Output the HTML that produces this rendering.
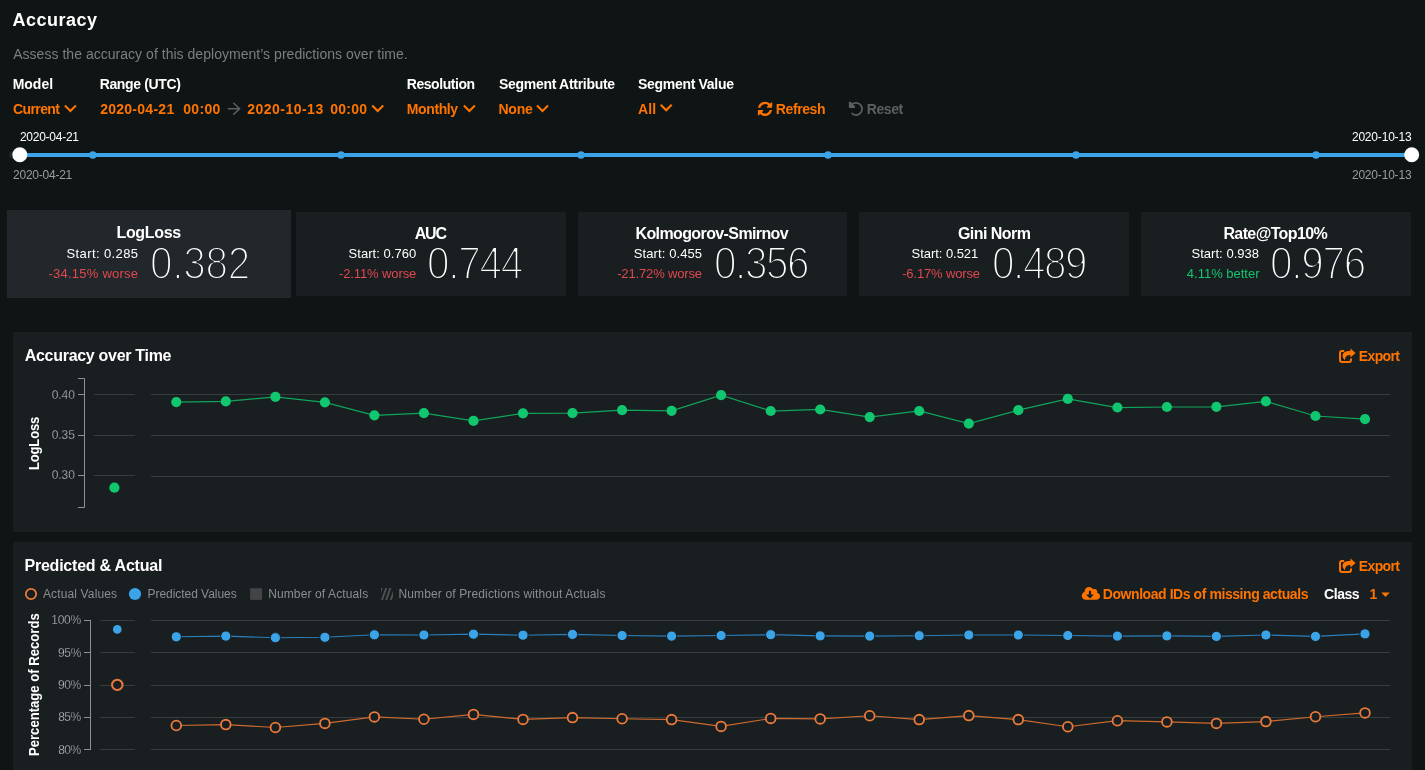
<!DOCTYPE html>
<html lang="en"><head><meta charset="utf-8"><title>Accuracy</title>
<style>
html,body{margin:0;padding:0}
body{width:1425px;height:770px;overflow:hidden;background:#0f1514;color:#fff;font-family:"Liberation Sans",Arial,Helvetica,sans-serif;position:relative}
.t{position:absolute;white-space:nowrap;line-height:1}
.ov{position:absolute;left:0;top:0}
.box{position:absolute;background:#191e21}
.big{font-size:46px;color:#fff;-webkit-text-stroke:2.15px #191e21;transform:scaleX(.88);transform-origin:0 0}
.bsel{-webkit-text-stroke-color:#22272b}
.rot{position:absolute;white-space:nowrap;line-height:1;font-weight:bold;font-size:14.5px;transform-origin:0 0;transform:rotate(-90deg) scaleX(.9)}
#app{position:absolute;left:0;top:0;width:1425px;height:770px;overflow:hidden;transform:translateZ(0)}
</style></head><body><div id="app">
<div class="box" style="left:7px;top:210px;width:284px;height:87.5px;background:#22272b"></div>
<div class="box" style="left:296px;top:212px;width:270px;height:84px"></div>
<div class="box" style="left:578px;top:212px;width:269px;height:84px"></div>
<div class="box" style="left:859px;top:212px;width:270px;height:84px"></div>
<div class="box" style="left:1141px;top:212px;width:270px;height:84px"></div>
<div class="box" style="left:13px;top:332px;width:1399px;height:199.5px"></div>
<div class="box" style="left:13px;top:542px;width:1399px;height:228px"></div>
<svg class="ov" width="1425" height="770" viewBox="0 0 1425 770">
<rect x="20" y="153" width="1392" height="4" fill="#3ba3e8"/>
<circle cx="92.8" cy="155" r="3.8" fill="#3ba3e8"/>
<circle cx="341" cy="155" r="3.8" fill="#3ba3e8"/>
<circle cx="581" cy="155" r="3.8" fill="#3ba3e8"/>
<circle cx="828" cy="155" r="3.8" fill="#3ba3e8"/>
<circle cx="1076" cy="155" r="3.8" fill="#3ba3e8"/>
<circle cx="1316" cy="155" r="3.8" fill="#3ba3e8"/>
<rect x="9" y="151.2" width="12" height="7.5" rx="3.75" fill="#20272a"/>
<circle cx="19.8" cy="154.7" r="7.5" fill="#fff"/>
<circle cx="1411.7" cy="154.8" r="7.45" fill="#fff"/>
<polyline points="64.9,105.6 70.4,111.1 75.9,105.6" fill="none" stroke="#ff7400" stroke-width="2.1"/>
<polyline points="372.2,105.6 377.7,111.1 383.2,105.6" fill="none" stroke="#ff7400" stroke-width="2.1"/>
<polyline points="463.9,105.6 469.4,111.1 474.9,105.6" fill="none" stroke="#ff7400" stroke-width="2.1"/>
<polyline points="537.0,105.6 542.5,111.1 548.0,105.6" fill="none" stroke="#ff7400" stroke-width="2.1"/>
<polyline points="660.7,104.7 666.2,110.2 671.7,104.7" fill="none" stroke="#ff7400" stroke-width="2.1"/>
<path d="M227.8 108.7H239.4M233.3 102.8L239.6 108.7L233.3 114.6" fill="none" stroke="#5a5f62" stroke-width="1.5"/>
<path transform="translate(756.7 100.5) scale(0.00931)" fill="#ff7400" d="M1639 1056q0 5-1 7-64 268-268 434.5t-478 166.5q-146 0-282.5-55t-243.5-157l-129 129q-19 19-45 19t-45-19-19-45v-448q0-26 19-45t45-19h448q26 0 45 19t19 45-19 45l-137 137q71 66 161 102t187 36q134 0 250-65t186-179q11-17 53-117 8-23 30-23h192q13 0 22.5 9.5t9.5 22.5zm25-800v448q0 26-19 45t-45 19h-448q-26 0-45-19t-19-45 19-45l138-138q-148-137-349-137-134 0-250 65t-186 179q-11 17-53 117-8 23-30 23h-199q-13 0-22.5-9.5t-9.5-22.5v-7q65-268 270-434.5t480-166.5q146 0 284 55.5t245 156.5l130-129q19-19 45-19t45 19 19 45z"/>
<path d="M852.0 104.3A6.1 6.1 0 1 1 851.6 113.2" fill="none" stroke="#5a5f62" stroke-width="1.7"/>
<path d="M848.9 101.7H850.6L855 106.2V107.9H848.9Z" fill="#5a5f62"/>
<g transform="translate(0 0)"><path d="M1344.2 351.1H1342Q1340 351.1 1340 353.1V360Q1340 362 1342 362H1349Q1351 362 1351 360V358.4" fill="none" stroke="#ff7400" stroke-width="2"/><path d="M1350.4 348.4L1355.6 353L1350.4 357.6V355.1C1347.2 355.1 1345.3 356.3 1344.9 360.3C1342.6 358.2 1341.9 355.6 1343.1 353.6C1344.4 351.4 1347 350.9 1350.4 350.9Z" fill="#ff7400"/></g>
<g transform="translate(0 210)"><path d="M1344.2 351.1H1342Q1340 351.1 1340 353.1V360Q1340 362 1342 362H1349Q1351 362 1351 360V358.4" fill="none" stroke="#ff7400" stroke-width="2"/><path d="M1350.4 348.4L1355.6 353L1350.4 357.6V355.1C1347.2 355.1 1345.3 356.3 1344.9 360.3C1342.6 358.2 1341.9 355.6 1343.1 353.6C1344.4 351.4 1347 350.9 1350.4 350.9Z" fill="#ff7400"/></g>
<path transform="translate(1081.8 586.2) scale(0.02844)" fill="#ff7400" d="M537.6 226.6c4.1-10.7 6.4-22.4 6.4-34.6 0-53-43-96-96-96-19.7 0-38.1 6-53.3 16.2C367 64.2 315.3 32 256 32c-88.4 0-160 71.6-160 160 0 2.7.1 5.4.2 8.1C40.2 219.8 0 273.2 0 336c0 79.5 64.5 144 144 144h368c70.7 0 128-57.3 128-128 0-61.9-44-113.6-102.4-125.4zm-132.9 88.7L299.3 420.7c-6.2 6.2-16.4 6.2-22.6 0L171.3 315.3c-10.1-10.1-2.9-27.3 11.3-27.3H248V176c0-8.8 7.2-16 16-16h48c8.8 0 16 7.2 16 16v112h65.4c14.2 0 21.4 17.2 11.3 27.3z"/>
<path d="M1381.3 592.5H1389.7L1385.5 597Z" fill="#ff7400"/>
<circle cx="31" cy="594" r="5.2" fill="none" stroke="#ea7a3a" stroke-width="1.8"/>
<circle cx="135" cy="594" r="6.1" fill="#3ba3e8"/>
<rect x="250.1" y="588.2" width="12" height="11.7" fill="#424446"/>
<clipPath id="hc"><rect x="380.9" y="588" width="12.1" height="12"/></clipPath>
<g clip-path="url(#hc)" stroke="#505152" stroke-width="1.9" fill="none"><path d="M377.3 600.5L381.9 587.5M381.8 600.5L386.4 587.5M386.0 600.5L390.6 587.5M390.6 600.5L395.2 587.5"/></g>
<line x1="94" x2="135" y1="394.5" y2="394.5" stroke="#373c3f"/>
<line x1="151" x2="1390" y1="394.5" y2="394.5" stroke="#373c3f"/>
<line x1="78" x2="84.5" y1="394.5" y2="394.5" stroke="#8d9194"/>
<line x1="94" x2="135" y1="435.5" y2="435.5" stroke="#373c3f"/>
<line x1="151" x2="1390" y1="435.5" y2="435.5" stroke="#373c3f"/>
<line x1="78" x2="84.5" y1="435.5" y2="435.5" stroke="#8d9194"/>
<line x1="94" x2="135" y1="475.5" y2="475.5" stroke="#373c3f"/>
<line x1="151" x2="1390" y1="476.5" y2="476.5" stroke="#373c3f"/>
<line x1="78" x2="84.5" y1="475.5" y2="475.5" stroke="#8d9194"/>
<path d="M78 378.5H84.5V507.5H78" fill="none" stroke="#8d9194"/>
<polyline points="176.3,402.1 225.8,401.4 275.4,396.9 324.9,402.3 374.4,415.3 423.9,413.1 473.5,420.9 523.0,413.3 572.5,413.1 622.1,410.2 671.6,410.8 721.1,395.1 770.7,411.0 820.2,409.5 869.7,417.1 919.2,411.0 968.8,423.6 1018.3,410.2 1067.8,398.9 1117.4,407.5 1166.9,407.0 1216.4,406.8 1265.9,401.4 1315.5,416.0 1365.0,419.1" fill="none" stroke="#11a55c" stroke-width="1.25"/>
<circle cx="176.3" cy="402.1" r="5.1" fill="#10c66e"/>
<circle cx="225.8" cy="401.4" r="5.1" fill="#10c66e"/>
<circle cx="275.4" cy="396.9" r="5.1" fill="#10c66e"/>
<circle cx="324.9" cy="402.3" r="5.1" fill="#10c66e"/>
<circle cx="374.4" cy="415.3" r="5.1" fill="#10c66e"/>
<circle cx="423.9" cy="413.1" r="5.1" fill="#10c66e"/>
<circle cx="473.5" cy="420.9" r="5.1" fill="#10c66e"/>
<circle cx="523.0" cy="413.3" r="5.1" fill="#10c66e"/>
<circle cx="572.5" cy="413.1" r="5.1" fill="#10c66e"/>
<circle cx="622.1" cy="410.2" r="5.1" fill="#10c66e"/>
<circle cx="671.6" cy="410.8" r="5.1" fill="#10c66e"/>
<circle cx="721.1" cy="395.1" r="5.1" fill="#10c66e"/>
<circle cx="770.7" cy="411.0" r="5.1" fill="#10c66e"/>
<circle cx="820.2" cy="409.5" r="5.1" fill="#10c66e"/>
<circle cx="869.7" cy="417.1" r="5.1" fill="#10c66e"/>
<circle cx="919.2" cy="411.0" r="5.1" fill="#10c66e"/>
<circle cx="968.8" cy="423.6" r="5.1" fill="#10c66e"/>
<circle cx="1018.3" cy="410.2" r="5.1" fill="#10c66e"/>
<circle cx="1067.8" cy="398.9" r="5.1" fill="#10c66e"/>
<circle cx="1117.4" cy="407.5" r="5.1" fill="#10c66e"/>
<circle cx="1166.9" cy="407.0" r="5.1" fill="#10c66e"/>
<circle cx="1216.4" cy="406.8" r="5.1" fill="#10c66e"/>
<circle cx="1265.9" cy="401.4" r="5.1" fill="#10c66e"/>
<circle cx="1315.5" cy="416.0" r="5.1" fill="#10c66e"/>
<circle cx="1365.0" cy="419.1" r="5.1" fill="#10c66e"/>
<circle cx="114.4" cy="487.7" r="5.1" fill="#10c66e"/>
<line x1="100" x2="135" y1="620.5" y2="620.5" stroke="#373c3f"/>
<line x1="151" x2="1390" y1="620.5" y2="620.5" stroke="#373c3f"/>
<line x1="84" x2="90.5" y1="620.5" y2="620.5" stroke="#8d9194"/>
<line x1="100" x2="135" y1="652.5" y2="652.5" stroke="#373c3f"/>
<line x1="151" x2="1390" y1="652.5" y2="652.5" stroke="#373c3f"/>
<line x1="84" x2="90.5" y1="652.5" y2="652.5" stroke="#8d9194"/>
<line x1="100" x2="135" y1="685.5" y2="685.5" stroke="#373c3f"/>
<line x1="151" x2="1390" y1="685.5" y2="685.5" stroke="#373c3f"/>
<line x1="84" x2="90.5" y1="685.5" y2="685.5" stroke="#8d9194"/>
<line x1="100" x2="135" y1="717.5" y2="717.5" stroke="#373c3f"/>
<line x1="151" x2="1390" y1="717.5" y2="717.5" stroke="#373c3f"/>
<line x1="84" x2="90.5" y1="717.5" y2="717.5" stroke="#8d9194"/>
<line x1="100" x2="135" y1="749.5" y2="749.5" stroke="#373c3f"/>
<line x1="151" x2="1390" y1="749.5" y2="749.5" stroke="#373c3f"/>
<line x1="84" x2="90.5" y1="749.5" y2="749.5" stroke="#8d9194"/>
<path d="M90.5 620V750" fill="none" stroke="#8d9194"/>
<polyline points="176.3,636.8 225.8,636.1 275.4,637.7 324.9,637.3 374.4,634.8 423.9,635.0 473.5,634.2 523.0,635.2 572.5,634.4 622.1,635.5 671.6,636.1 721.1,635.5 770.7,634.7 820.2,635.9 869.7,636.1 919.2,635.7 968.8,635.0 1018.3,635.0 1067.8,635.5 1117.4,636.1 1166.9,635.9 1216.4,636.4 1265.9,635.0 1315.5,636.4 1365.0,633.9" fill="none" stroke="#2b7fbb" stroke-width="1.15"/>
<circle cx="176.3" cy="636.8" r="5.1" fill="#3ba3e8" stroke="#191e21" stroke-width="1"/>
<circle cx="225.8" cy="636.1" r="5.1" fill="#3ba3e8" stroke="#191e21" stroke-width="1"/>
<circle cx="275.4" cy="637.7" r="5.1" fill="#3ba3e8" stroke="#191e21" stroke-width="1"/>
<circle cx="324.9" cy="637.3" r="5.1" fill="#3ba3e8" stroke="#191e21" stroke-width="1"/>
<circle cx="374.4" cy="634.8" r="5.1" fill="#3ba3e8" stroke="#191e21" stroke-width="1"/>
<circle cx="423.9" cy="635.0" r="5.1" fill="#3ba3e8" stroke="#191e21" stroke-width="1"/>
<circle cx="473.5" cy="634.2" r="5.1" fill="#3ba3e8" stroke="#191e21" stroke-width="1"/>
<circle cx="523.0" cy="635.2" r="5.1" fill="#3ba3e8" stroke="#191e21" stroke-width="1"/>
<circle cx="572.5" cy="634.4" r="5.1" fill="#3ba3e8" stroke="#191e21" stroke-width="1"/>
<circle cx="622.1" cy="635.5" r="5.1" fill="#3ba3e8" stroke="#191e21" stroke-width="1"/>
<circle cx="671.6" cy="636.1" r="5.1" fill="#3ba3e8" stroke="#191e21" stroke-width="1"/>
<circle cx="721.1" cy="635.5" r="5.1" fill="#3ba3e8" stroke="#191e21" stroke-width="1"/>
<circle cx="770.7" cy="634.7" r="5.1" fill="#3ba3e8" stroke="#191e21" stroke-width="1"/>
<circle cx="820.2" cy="635.9" r="5.1" fill="#3ba3e8" stroke="#191e21" stroke-width="1"/>
<circle cx="869.7" cy="636.1" r="5.1" fill="#3ba3e8" stroke="#191e21" stroke-width="1"/>
<circle cx="919.2" cy="635.7" r="5.1" fill="#3ba3e8" stroke="#191e21" stroke-width="1"/>
<circle cx="968.8" cy="635.0" r="5.1" fill="#3ba3e8" stroke="#191e21" stroke-width="1"/>
<circle cx="1018.3" cy="635.0" r="5.1" fill="#3ba3e8" stroke="#191e21" stroke-width="1"/>
<circle cx="1067.8" cy="635.5" r="5.1" fill="#3ba3e8" stroke="#191e21" stroke-width="1"/>
<circle cx="1117.4" cy="636.1" r="5.1" fill="#3ba3e8" stroke="#191e21" stroke-width="1"/>
<circle cx="1166.9" cy="635.9" r="5.1" fill="#3ba3e8" stroke="#191e21" stroke-width="1"/>
<circle cx="1216.4" cy="636.4" r="5.1" fill="#3ba3e8" stroke="#191e21" stroke-width="1"/>
<circle cx="1265.9" cy="635.0" r="5.1" fill="#3ba3e8" stroke="#191e21" stroke-width="1"/>
<circle cx="1315.5" cy="636.4" r="5.1" fill="#3ba3e8" stroke="#191e21" stroke-width="1"/>
<circle cx="1365.0" cy="633.9" r="5.1" fill="#3ba3e8" stroke="#191e21" stroke-width="1"/>
<circle cx="117.3" cy="629.4" r="4.3" fill="#3ba3e8"/>
<polyline points="176.3,725.5 225.8,724.6 275.4,727.5 324.9,723.4 374.4,716.9 423.9,719.2 473.5,714.4 523.0,719.4 572.5,717.6 622.1,718.7 671.6,719.6 721.1,726.4 770.7,718.4 820.2,718.9 869.7,715.8 919.2,719.6 968.8,715.6 1018.3,719.6 1067.8,726.7 1117.4,720.7 1166.9,721.9 1216.4,723.4 1265.9,721.6 1315.5,716.7 1365.0,712.9" fill="none" stroke="#cf6a2e" stroke-width="1.15"/>
<circle cx="176.3" cy="725.5" r="4.85" fill="#191e21" stroke="#ea7a3a" stroke-width="1.8"/>
<circle cx="225.8" cy="724.6" r="4.85" fill="#191e21" stroke="#ea7a3a" stroke-width="1.8"/>
<circle cx="275.4" cy="727.5" r="4.85" fill="#191e21" stroke="#ea7a3a" stroke-width="1.8"/>
<circle cx="324.9" cy="723.4" r="4.85" fill="#191e21" stroke="#ea7a3a" stroke-width="1.8"/>
<circle cx="374.4" cy="716.9" r="4.85" fill="#191e21" stroke="#ea7a3a" stroke-width="1.8"/>
<circle cx="423.9" cy="719.2" r="4.85" fill="#191e21" stroke="#ea7a3a" stroke-width="1.8"/>
<circle cx="473.5" cy="714.4" r="4.85" fill="#191e21" stroke="#ea7a3a" stroke-width="1.8"/>
<circle cx="523.0" cy="719.4" r="4.85" fill="#191e21" stroke="#ea7a3a" stroke-width="1.8"/>
<circle cx="572.5" cy="717.6" r="4.85" fill="#191e21" stroke="#ea7a3a" stroke-width="1.8"/>
<circle cx="622.1" cy="718.7" r="4.85" fill="#191e21" stroke="#ea7a3a" stroke-width="1.8"/>
<circle cx="671.6" cy="719.6" r="4.85" fill="#191e21" stroke="#ea7a3a" stroke-width="1.8"/>
<circle cx="721.1" cy="726.4" r="4.85" fill="#191e21" stroke="#ea7a3a" stroke-width="1.8"/>
<circle cx="770.7" cy="718.4" r="4.85" fill="#191e21" stroke="#ea7a3a" stroke-width="1.8"/>
<circle cx="820.2" cy="718.9" r="4.85" fill="#191e21" stroke="#ea7a3a" stroke-width="1.8"/>
<circle cx="869.7" cy="715.8" r="4.85" fill="#191e21" stroke="#ea7a3a" stroke-width="1.8"/>
<circle cx="919.2" cy="719.6" r="4.85" fill="#191e21" stroke="#ea7a3a" stroke-width="1.8"/>
<circle cx="968.8" cy="715.6" r="4.85" fill="#191e21" stroke="#ea7a3a" stroke-width="1.8"/>
<circle cx="1018.3" cy="719.6" r="4.85" fill="#191e21" stroke="#ea7a3a" stroke-width="1.8"/>
<circle cx="1067.8" cy="726.7" r="4.85" fill="#191e21" stroke="#ea7a3a" stroke-width="1.8"/>
<circle cx="1117.4" cy="720.7" r="4.85" fill="#191e21" stroke="#ea7a3a" stroke-width="1.8"/>
<circle cx="1166.9" cy="721.9" r="4.85" fill="#191e21" stroke="#ea7a3a" stroke-width="1.8"/>
<circle cx="1216.4" cy="723.4" r="4.85" fill="#191e21" stroke="#ea7a3a" stroke-width="1.8"/>
<circle cx="1265.9" cy="721.6" r="4.85" fill="#191e21" stroke="#ea7a3a" stroke-width="1.8"/>
<circle cx="1315.5" cy="716.7" r="4.85" fill="#191e21" stroke="#ea7a3a" stroke-width="1.8"/>
<circle cx="1365.0" cy="712.9" r="4.85" fill="#191e21" stroke="#ea7a3a" stroke-width="1.8"/>
<circle cx="117.3" cy="684.9" r="5.2" fill="#191e21" stroke="#ea7a3a" stroke-width="2"/>
</svg>
<div class="t" id="t_acc" style="left:12.60px;top:10.75px;font-size:18px;color:#ffffff;font-weight:bold;letter-spacing:0.485px;">Accuracy</div>
<div class="t" id="t_sub" style="left:13.20px;top:47.05px;font-size:14px;color:#7b7f82;letter-spacing:0.030px;">Assess the accuracy of this deployment’s predictions over time.</div>
<div class="t" id="l_model" style="left:12.68px;top:77.11px;font-size:14px;color:#ffffff;font-weight:bold;letter-spacing:-0.016px;">Model</div>
<div class="t" id="v_model" style="left:13.01px;top:102.11px;font-size:14px;color:#ff7400;font-weight:bold;letter-spacing:-0.598px;">Current</div>
<div class="t" id="l_range" style="left:99.68px;top:77.11px;font-size:14px;color:#ffffff;font-weight:bold;letter-spacing:-0.360px;">Range (UTC)</div>
<div class="t" id="v_d1" style="left:100.13px;top:102.11px;font-size:14px;color:#ff7400;font-weight:bold;letter-spacing:0.271px;">2020-04-21</div>
<div class="t" id="v_t1" style="left:183.19px;top:102.11px;font-size:14px;color:#ff7400;font-weight:bold;letter-spacing:0.318px;">00:00</div>
<div class="t" id="v_d2" style="left:247.13px;top:102.11px;font-size:14px;color:#ff7400;font-weight:bold;letter-spacing:0.494px;">2020-10-13</div>
<div class="t" id="v_t2" style="left:330.19px;top:102.11px;font-size:14px;color:#ff7400;font-weight:bold;letter-spacing:0.259px;">00:00</div>
<div class="t" id="l_res" style="left:406.78px;top:77.11px;font-size:14px;color:#ffffff;font-weight:bold;letter-spacing:-0.451px;">Resolution</div>
<div class="t" id="v_res" style="left:406.78px;top:102.11px;font-size:14px;color:#ff7400;font-weight:bold;letter-spacing:-0.377px;">Monthly</div>
<div class="t" id="l_sa" style="left:498.93px;top:77.11px;font-size:14px;color:#ffffff;font-weight:bold;letter-spacing:-0.291px;">Segment Attribute</div>
<div class="t" id="v_sa" style="left:498.56px;top:102.11px;font-size:14px;color:#ff7400;font-weight:bold;letter-spacing:-0.288px;">None</div>
<div class="t" id="l_sv" style="left:638.03px;top:77.11px;font-size:14px;color:#ffffff;font-weight:bold;letter-spacing:-0.308px;">Segment Value</div>
<div class="t" id="v_sv" style="left:637.96px;top:102.11px;font-size:14px;color:#ff7400;font-weight:bold;letter-spacing:0.130px;">All</div>
<div class="t" id="b_refresh" style="left:775.81px;top:102.11px;font-size:14px;color:#ff7400;font-weight:bold;letter-spacing:-0.405px;">Refresh</div>
<div class="t" id="b_reset" style="left:866.78px;top:102.11px;font-size:14px;color:#5b6063;font-weight:bold;letter-spacing:-0.440px;">Reset</div>
<div class="t" id="s_tl" style="left:19.91px;top:130.72px;font-size:12px;color:#ffffff;letter-spacing:-0.250px;">2020-04-21</div>
<div class="t" id="s_tr" style="left:1351.91px;top:130.61px;font-size:12px;color:#ffffff;letter-spacing:-0.191px;">2020-10-13</div>
<div class="t" id="s_bl" style="left:13.07px;top:168.72px;font-size:12px;color:#9a9da0;letter-spacing:-0.245px;">2020-04-21</div>
<div class="t" id="s_br" style="left:1351.91px;top:168.61px;font-size:12px;color:#9a9da0;letter-spacing:-0.191px;">2020-10-13</div>
<div class="t" id="c1_t" style="left:116.48px;top:224.66px;font-size:16px;color:#ffffff;font-weight:bold;letter-spacing:-0.336px;">LogLoss</div>
<div class="t" id="c1_s" style="left:66.49px;top:246.80px;font-size:13px;color:#ffffff;letter-spacing:0.401px;">Start: 0.285</div>
<div class="t" id="c1_c" style="left:48.51px;top:267.30px;font-size:13px;color:#e0494d;letter-spacing:0.232px;">-34.15% worse</div>
<div class="t" id="c2_t" style="left:414.77px;top:225.94px;font-size:16px;color:#ffffff;font-weight:bold;letter-spacing:-1.204px;">AUC</div>
<div class="t" id="c2_s" style="left:348.49px;top:246.80px;font-size:13px;color:#ffffff;letter-spacing:0.054px;">Start: 0.760</div>
<div class="t" id="c2_c" style="left:339.00px;top:267.30px;font-size:13px;color:#e0494d;letter-spacing:-0.112px;">-2.11% worse</div>
<div class="t" id="c3_t" style="left:635.46px;top:225.94px;font-size:16px;color:#ffffff;font-weight:bold;letter-spacing:-0.608px;">Kolmogorov-Smirnov</div>
<div class="t" id="c3_s" style="left:633.81px;top:246.80px;font-size:13px;color:#ffffff;letter-spacing:0.099px;">Start: 0.455</div>
<div class="t" id="c3_c" style="left:617.19px;top:267.30px;font-size:13px;color:#e0494d;letter-spacing:-0.151px;">-21.72% worse</div>
<div class="t" id="c4_t" style="left:957.89px;top:225.94px;font-size:16px;color:#ffffff;font-weight:bold;letter-spacing:-0.541px;">Gini Norm</div>
<div class="t" id="c4_s" style="left:911.58px;top:246.80px;font-size:13px;color:#ffffff;letter-spacing:-0.050px;">Start: 0.521</div>
<div class="t" id="c4_c" style="left:902.19px;top:267.30px;font-size:13px;color:#e0494d;letter-spacing:-0.153px;">-6.17% worse</div>
<div class="t" id="c5_t" style="left:1223.41px;top:225.94px;font-size:16px;color:#ffffff;font-weight:bold;letter-spacing:-0.610px;">Rate@Top10%</div>
<div class="t" id="c5_s" style="left:1191.49px;top:246.80px;font-size:13px;color:#ffffff;letter-spacing:0.036px;">Start: 0.938</div>
<div class="t" id="c5_c" style="left:1186.82px;top:267.30px;font-size:13px;color:#12c46c;letter-spacing:-0.005px;">4.11% better</div>
<div class="t" id="p1_t" style="left:24.77px;top:347.66px;font-size:16px;color:#ffffff;font-weight:bold;letter-spacing:-0.297px;">Accuracy over Time</div>
<div class="t" id="p1_e" style="left:1358.81px;top:349.25px;font-size:14px;color:#ff7400;font-weight:bold;letter-spacing:-0.620px;">Export</div>
<div class="t" id="a1_40" style="left:51.74px;top:389.44px;font-size:12px;color:#d2d5d7;letter-spacing:-0.081px;-webkit-text-stroke:.35px #191e21;">0.40</div>
<div class="t" id="a1_35" style="left:51.71px;top:429.44px;font-size:12px;color:#d2d5d7;letter-spacing:-0.044px;-webkit-text-stroke:.35px #191e21;">0.35</div>
<div class="t" id="a1_30" style="left:51.78px;top:469.44px;font-size:12px;color:#d2d5d7;letter-spacing:-0.105px;-webkit-text-stroke:.35px #191e21;">0.30</div>
<div class="t" id="p2_t" style="left:24.46px;top:558.44px;font-size:16px;color:#ffffff;font-weight:bold;letter-spacing:-0.221px;">Predicted &amp; Actual</div>
<div class="t" id="p2_e" style="left:1358.81px;top:559.11px;font-size:14px;color:#ff7400;font-weight:bold;letter-spacing:-0.620px;">Export</div>
<div class="t" id="lg_a" style="left:42.88px;top:587.83px;font-size:12px;color:#8a8e91;letter-spacing:0.142px;">Actual Values</div>
<div class="t" id="lg_p" style="left:147.57px;top:587.83px;font-size:12px;color:#8a8e91;letter-spacing:-0.050px;">Predicted Values</div>
<div class="t" id="lg_n" style="left:268.16px;top:587.83px;font-size:12px;color:#8a8e91;letter-spacing:0.122px;">Number of Actuals</div>
<div class="t" id="lg_w" style="left:398.52px;top:587.83px;font-size:12px;color:#8a8e91;letter-spacing:0.133px;">Number of Predictions without Actuals</div>
<div class="t" id="p2_d" style="left:1102.78px;top:587.33px;font-size:14px;color:#ff7400;font-weight:bold;letter-spacing:-0.431px;">Download IDs of missing actuals</div>
<div class="t" id="p2_c" style="left:1324.05px;top:587.33px;font-size:14px;color:#ffffff;font-weight:bold;letter-spacing:-0.458px;">Class</div>
<div class="t" id="p2_1" style="left:1369.51px;top:587.33px;font-size:14px;color:#ff7400;font-weight:bold;">1</div>
<div class="t" id="a2_100" style="left:51.34px;top:614.02px;font-size:12px;color:#d2d5d7;letter-spacing:-0.307px;-webkit-text-stroke:.35px #191e21;">100%</div>
<div class="t" id="a2_95" style="left:58.11px;top:647.22px;font-size:12px;color:#d2d5d7;letter-spacing:-0.410px;-webkit-text-stroke:.35px #191e21;">95%</div>
<div class="t" id="a2_90" style="left:58.11px;top:678.61px;font-size:12px;color:#d2d5d7;letter-spacing:-0.447px;-webkit-text-stroke:.35px #191e21;">90%</div>
<div class="t" id="a2_85" style="left:58.19px;top:710.72px;font-size:12px;color:#d2d5d7;letter-spacing:-0.500px;-webkit-text-stroke:.35px #191e21;">85%</div>
<div class="t" id="a2_80" style="left:58.19px;top:743.72px;font-size:12px;color:#d2d5d7;letter-spacing:-0.518px;-webkit-text-stroke:.35px #191e21;">80%</div>
<div class="t big bsel" id="c1_b" style="left:149.92px;top:240.36px;letter-spacing:-0.287px">0.382</div>
<div class="t big" id="c2_b" style="left:427.34px;top:240.36px;letter-spacing:-1.412px">0.744</div>
<div class="t big" id="c3_b" style="left:713.99px;top:240.36px;letter-spacing:-1.635px">0.356</div>
<div class="t big" id="c4_b" style="left:991.69px;top:240.36px;letter-spacing:-1.614px">0.489</div>
<div class="t big" id="c5_b" style="left:1270.34px;top:240.36px;letter-spacing:-1.426px">0.976</div>
<div class="rot" id="r1" style="left:26.6px;top:469.6px;letter-spacing:-0.2px">LogLoss</div>
<div class="rot" id="r2" style="left:26.6px;top:756.4px;letter-spacing:0.03px">Percentage of Records</div>
</div></body></html>
